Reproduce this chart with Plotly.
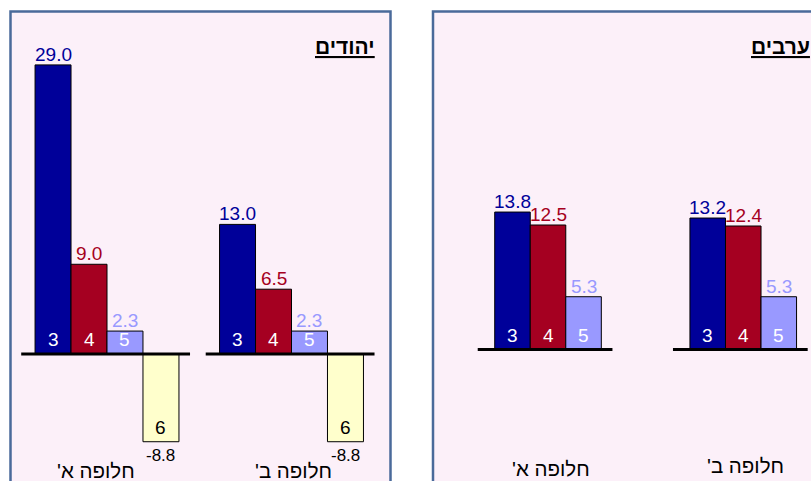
import plotly.graph_objects as go

# ---------------- data ----------------
groups = ["חלופה א'", "חלופה ב'"]
series_jews = ["3", "4", "5", "6"]
jews_s3 = [29.0, 13.0]
jews_s4 = [9.0, 6.5]
jews_s5 = [2.3, 2.3]
jews_s6 = [-8.8, -8.8]
series_arabs = ["3", "4", "5"]
arabs_s3 = [13.8, 13.2]
arabs_s4 = [12.5, 12.4]
arabs_s5 = [5.3, 5.3]
title_jews = "יהודים"
title_arabs = "ערבים"

# ---------------- style ----------------
W, H = 811, 481
FONT = "Liberation Sans, Arial, sans-serif"
colors = {"3": "#000099", "4": "#A50021", "5": "#9999FF", "6": "#FFFFCC"}
label_colors = {"3": "#000099", "4": "#A50021", "5": "#9999FF", "6": "#000000"}
inside_colors = {"3": "white", "4": "white", "5": "white", "6": "black"}
panel_fill = "#FCF0F9"
panel_border = "#4A6A9A"

RLM = "\u200f"

def px(x):
    return x / W

def py(y):
    return 1 - y / H

fig = go.Figure()

panels = [
    dict(xa="x", ya="y", xaxis="xaxis", yaxis="yaxis", series=series_jews,
         vals=[jews_s3, jews_s4, jews_s5, jews_s6], barw=0.195,
         domain=[px(14.75), px(383.75)], xrange=[-0.5, 1.5],
         yrange=[-12.74, 35.51], line=(-0.465, 0.45), catsize=20.5,
         caty=[py(470), py(470)], catshift=[-11, 2],
         title=title_jews, titlex=px(345)),
    dict(xa="x2", ya="y2", xaxis="xaxis2", yaxis="yaxis2", series=series_arabs,
         vals=[arabs_s3, arabs_s4, arabs_s5], barw=0.182,
         domain=[px(450.4), 1.0], xrange=[-0.5, 1.347],
         yrange=[-13.2, 35.09], line=(-0.36, 0.33), catsize=20.5,
         caty=[py(468.5), py(465)], catshift=[3, 2],
         title=title_arabs, titlex=px(780)),
]

annotations = []
shapes = []

# panel boxes
shapes.append(dict(type="rect", xref="paper", yref="paper", x0=px(10.5), x1=px(390.5),
                   y0=-0.1, y1=py(11.5), fillcolor=panel_fill,
                   line=dict(color=panel_border, width=2.5), layer="below"))
shapes.append(dict(type="rect", xref="paper", yref="paper", x0=px(433), x1=1.1,
                   y0=-0.1, y1=py(11.5), fillcolor=panel_fill,
                   line=dict(color=panel_border, width=2.5), layer="below"))

for p in panels:
    n = len(p["series"])
    w = p["barw"]
    for si, (s, vals) in enumerate(zip(p["series"], p["vals"])):
        off = (si - (n - 1) / 2) * w
        xs = [gi + off for gi in range(len(groups))]
        fig.add_trace(go.Bar(
            x=xs, y=vals, width=w, xaxis=p["xa"], yaxis=p["ya"],
            marker=dict(color=colors[s], line=dict(color="black", width=1)),
            showlegend=False, hoverinfo="skip"))
        for x, v in zip(xs, vals):
            # series number inside the bar, at its lower end
            annotations.append(dict(
                x=x, y=min(0, v), xref=p["xa"], yref=p["ya"], text=s,
                showarrow=False, yanchor="bottom", yshift=2,
                font=dict(family=FONT, size=19, color=inside_colors[s])))
            # value label beyond the bar end
            if v >= 0:
                annotations.append(dict(
                    x=x, y=v, xref=p["xa"], yref=p["ya"], text=f"{v:.1f}",
                    showarrow=False, yanchor="bottom", yshift=-2,
                    font=dict(family=FONT, size=19, color=label_colors[s])))
            else:
                annotations.append(dict(
                    x=x, y=v, xref=p["xa"], yref=p["ya"], text=f"{v:.1f}",
                    showarrow=False, yanchor="top", yshift=-2,
                    font=dict(family=FONT, size=17, color=label_colors[s])))
    for gi, g in enumerate(groups):
        shapes.append(dict(type="line", xref=p["xa"], yref=p["ya"],
                           x0=gi + p["line"][0], x1=gi + p["line"][1], y0=0, y1=0,
                           line=dict(color="black", width=3), layer="above"))
        annotations.append(dict(x=gi, y=p["caty"][gi], xref=p["xa"], yref="paper",
                                text=g + RLM, showarrow=False, yanchor="middle",
                                xshift=p["catshift"][gi],
                                font=dict(family=FONT, size=p["catsize"], color="black")))
    annotations.append(dict(x=p["titlex"], y=py(46), xref="paper", yref="paper",
                            text=f"<b><u>{p['title']}</u></b>", showarrow=False,
                            yanchor="middle", xanchor="center",
                            font=dict(family=FONT, size=21, color="black")))

layout_axes = {}
for p in panels:
    layout_axes[p["xaxis"]] = dict(domain=p["domain"], range=p["xrange"], visible=False,
                                   fixedrange=True)
    layout_axes[p["yaxis"]] = dict(domain=[0, 1], range=p["yrange"], visible=False,
                                   fixedrange=True,
                                   anchor=p["xa"])
layout_axes["xaxis2"]["anchor"] = "y2"

fig.update_layout(
    width=W, height=H, margin=dict(l=0, r=0, t=0, b=0),
    paper_bgcolor="white", plot_bgcolor="rgba(0,0,0,0)",
    barmode="overlay", shapes=shapes, annotations=annotations,
    font=dict(family=FONT), **layout_axes)

fig.write_html("out.html", config={"displayModeBar": False},
               post_script="document.body.style.margin='0';document.body.style.overflow='hidden';")
